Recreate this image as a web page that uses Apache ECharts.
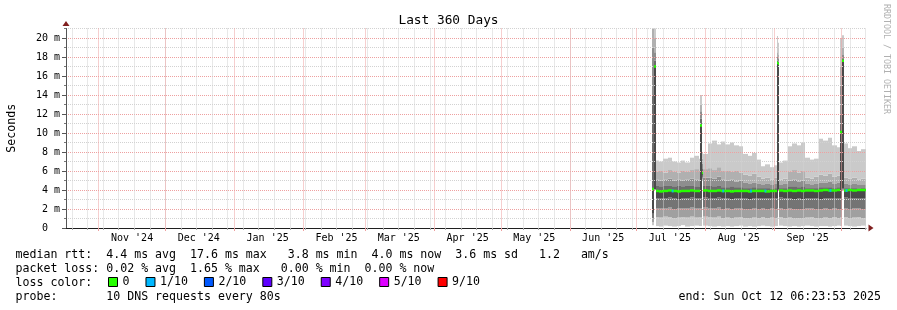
<!DOCTYPE html>
<html><head><meta charset="utf-8">
<script src="https://cdn.jsdelivr.net/npm/echarts@6/dist/echarts.min.js"></script>
<style>html,body{margin:0;padding:0;background:#fff}#c{width:897px;height:310px}</style>
</head><body><div id="c"></div>
<script>
// ---------- DATA ----------
const startTime = '2024-10-17 06:23:53';
const endTime   = '2025-10-12 06:23:53';
const titleText = 'Last 360 Days';
const yAxisName = 'Seconds';

// sample times (each value holds until the next sample)
const times = [
 '2025-07-08 00:00','2025-07-09 00:00','2025-07-09 16:00','2025-07-11 00:00','2025-07-13 00:00',
 '2025-07-15 00:00','2025-07-17 00:00','2025-07-19 00:00','2025-07-21 00:00','2025-07-23 00:00',
 '2025-07-25 00:00','2025-07-27 00:00','2025-07-29 00:00','2025-07-29 18:00','2025-07-30 12:00',
 '2025-07-31 00:00','2025-08-02 00:00','2025-08-04 00:00','2025-08-06 00:00','2025-08-08 00:00',
 '2025-08-10 00:00','2025-08-12 00:00','2025-08-14 00:00','2025-08-16 00:00','2025-08-18 00:00',
 '2025-08-20 00:00','2025-08-22 00:00','2025-08-24 00:00','2025-08-26 00:00','2025-08-28 00:00',
 '2025-08-30 00:00','2025-09-01 00:00','2025-09-02 00:00','2025-09-02 16:00','2025-09-03 08:00',
 '2025-09-05 00:00','2025-09-07 00:00','2025-09-09 00:00','2025-09-11 00:00','2025-09-13 00:00',
 '2025-09-15 00:00','2025-09-17 00:00','2025-09-19 00:00','2025-09-21 00:00','2025-09-23 00:00',
 '2025-09-25 00:00','2025-09-27 00:00','2025-09-29 00:00','2025-09-30 18:00','2025-10-01 10:00',
 '2025-10-02 06:00','2025-10-04 00:00','2025-10-06 00:00','2025-10-08 00:00','2025-10-10 00:00',
 '2025-10-12 06:00'
];
// smoke boundaries in ms (lowest ping ... highest ping), median
const lo1 = [0.3,4.0,0.2,0.15,0.25,0.2,0.15,0.2,0.3,0.15,0.2,0.25,0.2, 0.2,5.0,
 0.25,0.2,0.15,0.2,0.15,0.2,0.15,0.2,0.25,0.15,0.2,0.15,0.2,0.25,0.2,0.15,0.2, 0.2,3.9,
 0.25,0.2,0.15,0.2,0.15,0.2,0.25,0.2,0.15,0.2,0.2,0.15,0.2,0.25, 0.2,3.9,
 0.25,0.2,0.15,0.2,0.25,0.2];
const lo2 = [0.6,4.0,1.15,1.1,1.2,1.15,1.05,1.1,1.15,1.1,1.2,1.1,1.15, 1.1,5.1,
 1.2,1.15,1.1,1.2,1.05,1.1,1.0,1.1,1.15,1.05,1.0,1.1,1.05,1.15,1.05,1.1,1.05, 1.1,3.95,
 1.15,1.05,1.1,1.0,1.05,1.0,1.1,1.15,1.05,1.0,1.1,1.05,1.15,1.05, 1.1,4.0,
 1.15,1.05,1.1,1.15,1.05,1.1];
const lo3 = [1.0,4.05,2.1,2.05,2.1,2.15,2.0,2.1,2.05,2.1,2.15,2.05,2.1, 2.1,5.3,
 2.15,2.1,2.05,2.15,2.0,2.05,1.95,2.05,2.1,2.0,1.95,2.05,2.0,2.1,2.0,2.05,2.0, 2.1,4.0,
 2.1,2.0,2.05,1.95,2.0,1.95,2.05,2.1,2.0,1.95,2.05,2.0,2.1,2.0, 2.0,4.1,
 2.1,2.0,2.05,2.1,2.0,2.05];
const lo4 = [1.5,4.1,3.1,3.15,3.1,3.2,3.1,3.05,3.15,3.1,3.2,3.1,3.1, 3.1,5.5,
 3.2,3.15,3.1,3.2,3.1,3.1,3.0,3.1,3.1,3.15,3.05,3.1,3.1,3.15,3.1,3.1,3.1, 3.1,4.05,
 3.2,3.1,3.1,3.05,3.1,3.0,3.1,3.15,3.1,3.05,3.1,3.1,3.15,3.1, 3.1,4.2,
 3.2,3.1,3.1,3.15,3.1,3.1];
const median = [4.1,17.0,3.9,3.85,3.9,3.95,3.9,3.85,3.9,3.9,3.95,3.9,3.9, 10.8,5.8,
 3.95,3.9,3.9,3.95,3.9,3.9,3.85,3.9,3.9,3.9,3.85,3.9,3.9,3.9,3.85,3.9,3.9, 17.4,17.3,
 3.95,3.9,3.95,3.9,3.95,3.9,3.95,3.95,3.9,3.95,4.0,3.95,3.95,4.0, 10.1,17.6,
 3.95,4.0,3.95,4.0,4.0,4.0];
const hi1 = [14,17.6,4.5,4.4,4.5,4.5,4.4,4.5,4.4,4.5,4.5,4.4,4.4, 11.5,6.2,
 4.5,4.5,4.4,4.5,4.3,4.3,4.4,4.3,4.3,4.2,4.2,4.3,4.2,4.2,4.2,4.1,4.2, 17.6,17.5,
 4.2,4.2,4.4,4.4,4.3,4.4,4.2,4.2,4.2,4.3,4.3,4.3,4.2,4.3, 12.0,17.8,
 4.2,4.2,4.2,4.1,4.2,4.2];
const hi2 = [19,18.5,5.1,5.0,5.1,5.2,5.0,5.1,5.0,5.1,5.2,5.1,5.0, 12.3,6.8,
 5.3,5.3,5.2,5.4,5.1,5.0,5.1,4.9,5.0,4.8,4.7,4.8,4.7,4.6,4.7,4.6,4.7, 18.0,17.8,
 4.6,4.7,5.0,5.1,4.9,5.0,4.7,4.6,4.7,4.8,4.8,4.9,4.7,4.8, 15.0,18.2,
 4.7,4.6,4.7,4.6,4.6,4.7];
const hi3 = [21,20,5.9,6.0,5.8,6.1,5.9,5.8,6.0,5.9,6.1,6.2,6.0, 13.0,7.3,
 6.2,6.3,6.1,6.4,6.0,6.0,5.9,6.0,5.8,5.6,5.5,5.7,5.4,5.2,5.3,5.1,5.3, 18.5,18.2,
 5.1,5.2,5.9,6.1,5.8,6.0,5.3,5.2,5.4,5.6,5.5,5.7,5.4,5.5, 17.0,19.0,
 5.3,5.2,5.3,5.1,5.2,5.2];
const top10 = [22,22,7.1,7.0,7.3,7.4,7.0,6.9,7.1,6.9,7.4,7.6,7.3, 14.0,8.0,
 7.8,8.9,9.2,8.8,9.1,8.8,9.0,8.7,8.6,7.8,7.6,7.9,7.2,6.5,6.7,6.4,6.6, 20.2,19.5,
 6.9,7.1,8.6,8.9,8.7,9.0,7.4,7.2,7.3,9.4,9.2,9.5,8.7,8.5, 20.0,20.3,
 8.9,8.4,8.6,8.1,8.3,8.2];
// samples with 1/10 packet loss
const lossTimes  = ['2025-07-17 06:00','2025-08-09 00:00','2025-08-21 12:00','2025-08-28 00:00','2025-09-26 06:00','2025-10-03 12:00'];
const lossMedian = [3.9,3.9,3.9,3.9,3.95,3.95];

// axis ticks / labels
const monthStarts = ['2024-11-01','2024-12-01','2025-01-01','2025-02-01','2025-03-01','2025-04-01',
 '2025-05-01','2025-06-01','2025-07-01','2025-08-01','2025-09-01','2025-10-01'];
const monthLabelDates = ['2024-11-16','2024-12-16','2025-01-16','2025-02-16','2025-03-16','2025-04-16',
 '2025-05-16','2025-06-16','2025-07-16','2025-08-16','2025-09-16'];
const monthLabels = ["Nov '24","Dec '24","Jan '25","Feb '25","Mar '25","Apr '25","May '25","Jun '25","Jul '25","Aug '25","Sep '25"];
const firstWeekLine = '2024-10-20';
const yTicks = [0,2,4,6,8,10,12,14,16,18,20];

const lossNames  = ['0','1/10','2/10','3/10','4/10','5/10','9/10'];
const lossColors = ['#26ff00','#00b8ff','#0059ff','#5e00ff','#7e00ff','#dd00ff','#ff0000'];

const legendRows = [
 'median rtt:  4.4 ms avg  17.6 ms max   3.8 ms min  4.0 ms now  3.6 ms sd   1.2   am/s',
 'packet loss: 0.02 % avg  1.65 % max   0.00 % min  0.00 % now',
 'loss color:',
 'probe:       10 DNS requests every 80s'
];
const endText = 'end: Sun Oct 12 06:23:53 2025';
const sideText = 'RRDTOOL / TOBI OETIKER';

// ---------- BUILD ----------
function ts(s){
  const m = s.match(/(\d+)-(\d+)-(\d+)(?: (\d+):(\d+)(?::(\d+))?)?/);
  return Date.UTC(+m[1], +m[2]-1, +m[3], +(m[4]||0), +(m[5]||0), +(m[6]||0));
}
const T0 = ts(startTime), T1 = ts(endTime);
const DAY = 86400000;
const weekTicks = [];
for (let t = ts(firstWeekLine); t <= T1; t += 7*DAY) weekTicks.push(t);
const monthTicks = monthStarts.map(ts);
const labelTicks = monthLabelDates.map(ts);

const MONO = "'DejaVu Sans Mono', monospace";
const GRID_GRAY = '#d2d2d2';
const GRID_RED = 'rgb(238,160,160)';
const ARROW = '#801f1f';

const bands = [lo1, lo2, lo3, lo4, median, hi1, hi2, hi3, top10];
const bandColors = ['#c8c8c8','#a0a0a0','#747474','#4a4a4a','#6c6c6c','#8e8e8e','#b0b0b0','#cacaca'];

// one row per sample interval: [start, end, lo1..top10]
const intervals = times.map((t,i)=>[ts(t), i+1 < times.length ? ts(times[i+1]) : T1].concat(bands.map(b=>b[i])));
const medIntervals = times.map((t,i)=>[ts(t), i+1 < times.length ? ts(times[i+1]) : T1, median[i]]);

function xSpan(api){
  const x0 = Math.round(api.coord([api.value(0), 0])[0]);
  const x1 = Math.round(api.coord([api.value(1), 0])[0]);
  return [x0, x1];
}

const series = [];
series.push({type:'custom', xAxisIndex:0, yAxisIndex:0, silent:true, z:2,
  encode:{x:[0,1], y:[2,3,4,5,6,7,8,9,10]}, data:intervals,
  renderItem:function(params, api){
    const [x0, x1] = xSpan(api);
    const topY = params.coordSys.y;
    const children = [];
    for (let k = 1; k < 9; k++) {
      const yLo = api.coord([api.value(0), api.value(1+k)])[1];
      const yHi = Math.max(topY, api.coord([api.value(0), api.value(2+k)])[1]);
      if (yLo - yHi <= 0) continue;
      children.push({type:'rect', shape:{x:x0, y:yHi, width:x1-x0, height:yLo-yHi},
        style:{fill:bandColors[k-1]}});
    }
    return {type:'group', children:children};
  }});
series.push({type:'custom', xAxisIndex:0, yAxisIndex:0, silent:true, z:5,
  encode:{x:[0,1], y:2}, data:medIntervals,
  renderItem:function(params, api){
    const [x0, x1] = xSpan(api);
    const y = api.coord([api.value(0), api.value(2)])[1];
    return {type:'rect', shape:{x:x0, y:y-1.25, width:x1-x0, height:2.5}, style:{fill:lossColors[0]}};
  }});
series.push({type:'scatter', xAxisIndex:0, yAxisIndex:0, symbol:'rect', symbolSize:[2,3], silent:true, z:6,
  itemStyle:{color:lossColors[1]}, data: lossTimes.map((t,i)=>[ts(t), lossMedian[i]])});
// legend entries
lossNames.forEach((n,i)=>series.push({type:'bar', xAxisIndex:0, name:n, data:[], itemStyle:{color:lossColors[i]}}));

const xBase = {type:'value', min:T0, max:T1, position:'bottom', z:3};
const option = {
  animation:false,
  backgroundColor:'#ffffff',
  title:{text:titleText, left:'center', top:9,
    textStyle:{fontFamily:MONO, fontSize:12.8, fontWeight:'normal', color:'#000'}},
  grid:{left:66, top:28.5, width:800, height:199.5, containLabel:false, outerBoundsMode:'none'},
  legend:{data:lossNames, left:108, top:276, padding:0, itemWidth:9, itemHeight:9, itemGap:16,
    icon:'rect', selectedMode:false,
    itemStyle:{borderColor:'#000', borderWidth:1},
    textStyle:{fontFamily:MONO, fontSize:11.6, color:'#000', padding:[0,0,0,0]}},
  xAxis:[
    Object.assign({}, xBase, {
      axisLine:{show:true, onZero:false, lineStyle:{color:'#1f1f1f', width:1}},
      axisTick:{show:true, customValues:weekTicks, length:2, lineStyle:{color:'#aaaaaa'}},
      axisLabel:{show:false},
      splitLine:{show:true, lineStyle:{color:GRID_GRAY, type:[1,1], width:1}}
    }),
    Object.assign({}, xBase, {
      axisLine:{show:true, onZero:false, symbol:['none','triangle'], symbolSize:[7,5], symbolOffset:[0,5],
        lineStyle:{color:ARROW, width:0}},
      axisTick:{show:true, customValues:monthTicks, length:3, lineStyle:{color:GRID_RED}},
      axisLabel:{show:false},
      splitLine:{show:true, lineStyle:{color:GRID_RED, type:[1,1], width:1}}
    }),
    Object.assign({}, xBase, {
      axisLine:{show:false}, axisTick:{show:false}, splitLine:{show:false},
      axisLabel:{show:true, customValues:labelTicks, margin:5, fontFamily:MONO, fontSize:10, color:'#000',
        formatter:function(v){
          let best = 0, bd = Infinity;
          labelTicks.forEach((t,i)=>{const d=Math.abs(t-v); if(d<bd){bd=d;best=i;}});
          return monthLabels[best];
        }}
    })
  ],
  yAxis:[
    {type:'value', min:0, max:21, interval:1, position:'left', z:3,
     axisLine:{show:true, onZero:false, lineStyle:{color:'#555', width:1}},
     axisTick:{show:true, length:2, lineStyle:{color:'#777'}},
     axisLabel:{show:false},
     splitLine:{show:true, showMinLine:false, lineStyle:{color:GRID_GRAY, type:[1,1], width:1}}},
    {type:'value', min:0, max:21, position:'left', z:3,
     name:yAxisName, nameLocation:'middle', nameRotate:90, nameGap:48,
     nameTextStyle:{fontFamily:MONO, fontSize:11.6, color:'#000'},
     axisLine:{show:true, onZero:false, symbol:['none','triangle'], symbolSize:[7,5], symbolOffset:[0,5],
       lineStyle:{color:ARROW, width:0}},
     axisTick:{show:true, customValues:yTicks, length:4, lineStyle:{color:'#555'}},
     axisLabel:{show:true, customValues:yTicks, margin:6, fontFamily:MONO, fontSize:10, color:'#000',
       formatter:function(v){ return v === 0 ? '0  ' : v + ' m'; }},
     splitLine:{show:true, showMinLine:false, lineStyle:{color:GRID_RED, type:[1,1], width:1}}}
  ],
  series: series,
  graphic:[
    ...legendRows.map((s,i)=>({type:'text', x:15.5, y:254.8 + i*14, silent:true,
      style:{text:s, font:"11.6px 'DejaVu Sans Mono'", fill:'#000',
        align:'left', verticalAlign:'middle', textAlign:'left', textVerticalAlign:'middle'}})),
    {type:'text', x:881, y:296.8, silent:true,
      style:{text:endText, font:"11.6px 'DejaVu Sans Mono'", fill:'#000',
        align:'right', verticalAlign:'middle', textAlign:'right', textVerticalAlign:'middle'}},
    {type:'text', x:886.5, y:4, rotation:-Math.PI/2, silent:true,
      style:{text:sideText, font:"8.3px 'DejaVu Sans Mono'", fill:'#b0b0b0',
        align:'left', verticalAlign:'middle', textAlign:'left', textVerticalAlign:'middle'}}
  ]
};
const chart = echarts.init(document.getElementById('c'), null, {renderer:'canvas', width:897, height:310});
chart.setOption(option);
</script>
</body></html>
